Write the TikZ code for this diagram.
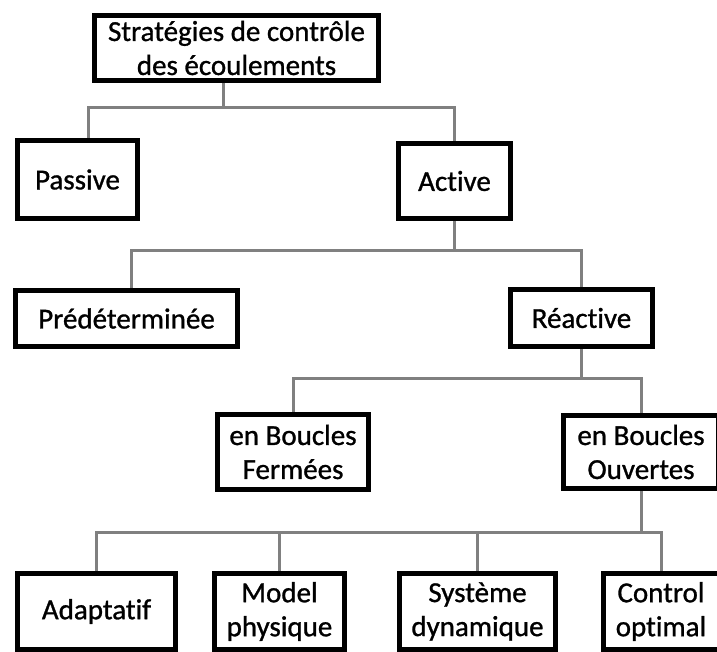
\documentclass[tikz,border=0pt]{standalone}
\usepackage{fontspec}
\setmainfont[Ligatures={NoCommon},FakeBold=1]{Carlito}
\usepackage{tikz}

\begin{document}
\begin{tikzpicture}[x=1pt,y=-1pt,
  box/.style={draw=black,line width=5pt,fill=white,align=center,inner sep=0pt,
    font=\fontsize{29}{34}\selectfont},
  link/.style={draw=black!50,line width=3pt}]
\useasboundingbox[fill=white] (0,0) rectangle (717,652);

% Level 0
\node[box,minimum width=284,minimum height=65] (strat) at (236.5,48) {Stratégies de contrôle\\des écoulements};

% Level 1
\node[box,minimum width=120,minimum height=78] (passive) at (77.5,179.5) {Passive};
\node[box,minimum width=112,minimum height=75] (active) at (454.5,181) {Active};

% Level 2
\node[box,minimum width=222,minimum height=56] (predet) at (126.5,318.5) {Prédéterminée};
\node[box,minimum width=142,minimum height=57] (reactive) at (581.5,318) {Réactive};

% Level 3
\node[box,minimum width=151,minimum height=75] (fermees) at (293,452) {en Boucles\\Fermées};
\node[box,minimum width=155,minimum height=73] (ouvertes) at (641,452) {en Boucles\\Ouvertes};

% Level 4
\node[box,minimum width=158,minimum height=76] (adaptatif) at (96.5,611.5) {Adaptatif};
\node[box,minimum width=130,minimum height=76] (model) at (279.5,611.5) {Model\\physique};
\node[box,minimum width=156,minimum height=76] (systeme) at (477.5,611.5) {Système\\dynamique};
\node[box,minimum width=116,minimum height=76] (control) at (661,611.5) {Control\\optimal};

% Connectors
\draw[link] ([xshift=-13]strat.south) -- ++(0,25) -| ([xshift=11]passive.north);
\draw[link] ([xshift=-13]strat.south) -- ++(0,25) -| (active.north);
\draw[link] (active.south) -- ++(0,30) -| ([xshift=5]predet.north);
\draw[link] (active.south) -- ++(0,30) -| (reactive.north);
\draw[link] (reactive.south) -- ++(0,29) -| (fermees.north);
\draw[link] (reactive.south) -- ++(0,29) -| (ouvertes.north);
\foreach \n in {adaptatif,model,systeme,control} {
    \draw[link] (ouvertes.south) -- ++(0,41) -| (\n.north);
}
\end{tikzpicture}
\end{document}
